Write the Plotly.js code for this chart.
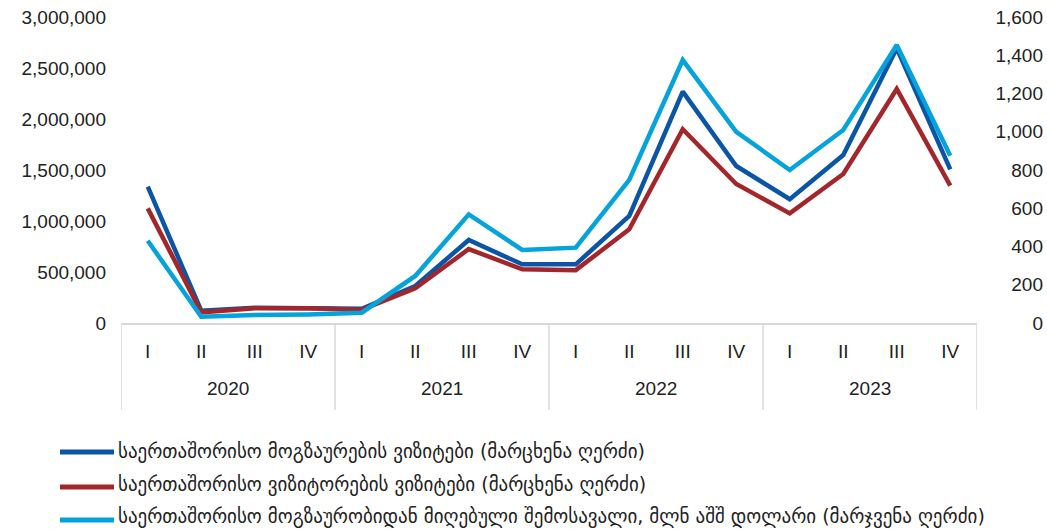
<!DOCTYPE html>
<html><head><meta charset="utf-8">
<script src="https://cdn.plot.ly/plotly-3.0.1.min.js"></script>
<style>html,body{margin:0;padding:0;background:#fff}#chart{width:1047px;height:529px}</style>
</head><body><div id="chart"></div>
<script>
const years = ['2020','2020','2020','2020','2021','2021','2021','2021','2022','2022','2022','2022','2023','2023','2023','2023'];
const quarters = ['I','II','III','IV','I','II','III','IV','I','II','III','IV','I','II','III','IV'];
const travelerVisits = [1336000,120000,150000,150000,140000,363000,814000,575000,575000,1049000,2268000,1539000,1213000,1647000,2693000,1507000];
const visitorVisits = [1124000,105000,145000,145000,130000,340000,725000,526000,518000,918000,1899000,1363000,1075000,1461000,2294000,1346000];
const revenue = [430,33,42,45,54,246,568,382,394,748,1375,1000,800,1009,1454,875];
const seriesNames = [
  'საერთაშორისო მოგზაურების ვიზიტები (მარცხენა ღერძი)',
  'საერთაშორისო ვიზიტორების ვიზიტები (მარცხენა ღერძი)',
  'საერთაშორისო მოგზაურობიდან მიღებული შემოსავალი, მლნ აშშ დოლარი (მარჯვენა ღერძი)'
];
const colors = ['#0A55A6','#A3262B','#04A3DB'];
const leftTicks = [0,500000,1000000,1500000,2000000,2500000,3000000];
const rightTicks = [0,200,400,600,800,1000,1200,1400,1600];

const font = {family:'Liberation Sans, Arial, sans-serif', size:19, color:'#222'};
const keys = years.map((y,i)=>y+' '+quarters[i]);
const traces = [
  {x:keys, y:travelerVisits, name:seriesNames[0], type:'scatter', mode:'lines', line:{color:colors[0], width:4.5}, yaxis:'y'},
  {x:keys, y:visitorVisits, name:seriesNames[1], type:'scatter', mode:'lines', line:{color:colors[1], width:4.5}, yaxis:'y'},
  {x:keys, y:revenue, name:seriesNames[2], type:'scatter', mode:'lines', line:{color:colors[2], width:4.5}, yaxis:'y2'}
];
const plotH = 529-17-206, plotW = 922;
const xEnd = (977-121)/plotW;
const shapes = [], annotations = [];
// year groups: dividers and centred year labels
const uniqYears = [...new Set(years)];
const divBottom = (323-410)/plotH;
uniqYears.forEach((yr,gi)=>{
  const idx = years.map((y,i)=>y===yr?i:-1).filter(i=>i>=0);
  const first = idx[0], last = idx[idx.length-1];
  shapes.push({type:'line', xref:'x', yref:'paper', x0:first-0.5, x1:first-0.5, y0:0, y1:divBottom, line:{color:'#D9D9D9', width:1.5}});
  if (gi===uniqYears.length-1) shapes.push({type:'line', xref:'x', yref:'paper', x0:last+0.5, x1:last+0.5, y0:0, y1:divBottom, line:{color:'#D9D9D9', width:1.5}});
  annotations.push({xref:'x', yref:'paper', x:(first+last)/2, y:(323-388)/plotH, xanchor:'center', yanchor:'middle', text:yr, showarrow:false, font:font});
});
const legLineY = [452, 487, 520];
const legTextY = [451, 485, 516];
for (let i=0;i<3;i++){
  const yp = (323-legLineY[i])/plotH;
  shapes.push({type:'line', xref:'paper', yref:'paper', x0:(60-121)/plotW, x1:(114-121)/plotW, y0:yp, y1:yp,
               line:{color:colors[i], width:5}});
  annotations.push({xref:'paper', yref:'paper', x:(117-121)/plotW, y:(323-legTextY[i])/plotH, xanchor:'left', yanchor:'middle',
                    text:seriesNames[i], showarrow:false, borderpad:0, font:{family:'DejaVu Sans, sans-serif', size:19, color:'#222'}});
}
const layout = {
  width:1047, height:529,
  margin:{l:121, r:4, t:17, b:206},
  paper_bgcolor:'#fff', plot_bgcolor:'#fff',
  showlegend:false,
  font:font,
  xaxis:{type:'category', domain:[0,xEnd], range:[-0.5, keys.length-0.5], tickvals:keys, ticktext:quarters,
         showline:true, linecolor:'#D9D9D9', linewidth:1.5, ticks:'', tickfont:font, showgrid:false, zeroline:false, ticklabelstandoff:10},
  yaxis:{range:[0,3000000], tickvals:leftTicks, ticktext:leftTicks.map(v=>v.toLocaleString('en-US')),
         showgrid:false, zeroline:false, showline:false, ticks:'', tickfont:font, ticklabelstandoff:14},
  yaxis2:{range:[0,1600], tickvals:rightTicks, ticktext:rightTicks.map(v=>v.toLocaleString('en-US')),
          overlaying:'y', side:'left', anchor:'free', position:1, showgrid:false, zeroline:false, showline:false,
          ticks:'', tickfont:font, ticklabelstandoff:0},
  shapes:shapes, annotations:annotations
};
Plotly.newPlot('chart', traces, layout, {displayModeBar:false});
</script></body></html>
